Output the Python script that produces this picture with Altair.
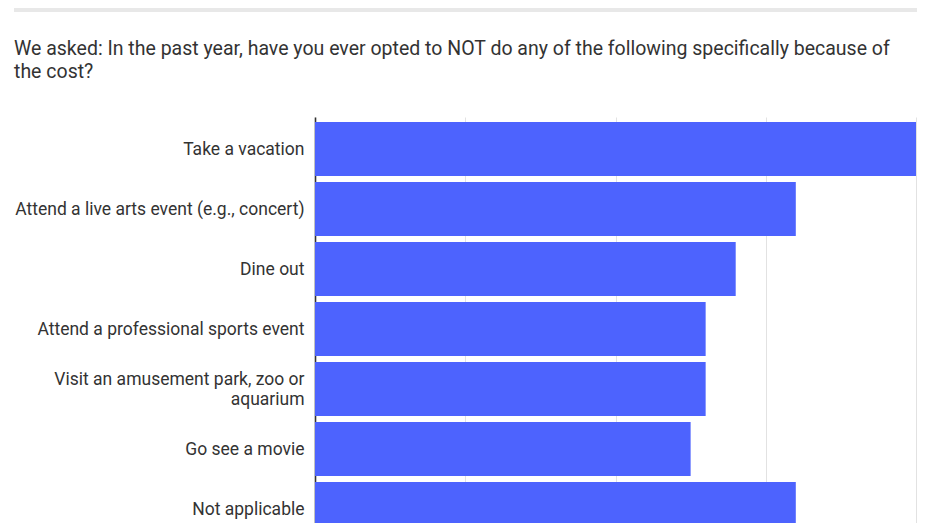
import pandas as pd
import altair as alt

BLUE = "#4d63fe"
TEXT = "#333333"
GRID = "#e2e2e2"
STRIP = "#e8e8e8"

CATEGORIES = [
    "Take a vacation",
    "Attend a live arts event (e.g., concert)",
    "Dine out",
    "Attend a professional sports event",
    "Visit an amusement park, zoo or aquarium",
    "Go see a movie",
    "Not applicable",
]
SHARES = [40, 32, 28, 26, 26, 25, 32]

TITLE_LINES = [
    "We asked: In the past year, have you ever opted to NOT do any of the following specifically because of",
    "the cost?",
]

df = pd.DataFrame({"Activity": CATEGORIES, "Share": SHARES})

WRAPPED = "Visit an amusement park, zoo or aquarium"
WRAP_EXPR = (
    f"datum.label == '{WRAPPED}'"
    " ? ['Visit an amusement park, zoo or', 'aquarium'] : datum.label"
)

bars = (
    alt.Chart(df)
    .mark_bar(color=BLUE)
    .encode(
        x=alt.X("Share:Q", title=None,
                scale=alt.Scale(domain=[0, 40]),
                axis=alt.Axis(values=[0, 10, 20, 30, 40], grid=True,
                              gridColor=GRID, domain=False, ticks=False,
                              labels=False)),
        y=alt.Y("Activity:N", sort=CATEGORIES, title=None,
                scale=alt.Scale(paddingInner=0.1, paddingOuter=0.083),
                axis=alt.Axis(labelFont="Roboto", labelFontSize=17.5,
                              labelColor=TEXT, labelPadding=11,
                              labelLimit=400, labelLineHeight=20,
                              labelExpr=WRAP_EXPR,
                              labelOffset={"condition": {"test": f"datum.value == '{WRAPPED}'",
                                                         "value": -9},
                                           "value": 1},
                              ticks=False,
                              domainColor=TEXT, domainWidth=1.6)),
    )
)

strip = (
    alt.Chart(pd.DataFrame({"v": [0]}))
    .mark_rule(color=STRIP, strokeWidth=4)
    .encode(x=alt.value(-301), x2=alt.value(602), y=alt.value(-107))
)

title = (
    alt.Chart(pd.DataFrame({"t": ["\n".join(TITLE_LINES)]}))
    .mark_text(font="Roboto", fontSize=19.5, color=TEXT, align="left",
               baseline="alphabetic", lineBreak="\n", lineHeight=23)
    .encode(x=alt.value(-301), y=alt.value(-62), text="t:N")
)

chart = (
    alt.layer(strip, title, bars)
    .properties(
        width=601, height=424,
        autosize=alt.AutoSizeParams(type="none"),
        padding={"left": 307, "top": 109, "right": 5, "bottom": 10},
    )
    .configure_view(strokeWidth=0)
)

chart.save("out.html", embed_options={"renderer": "svg", "actions": False})
